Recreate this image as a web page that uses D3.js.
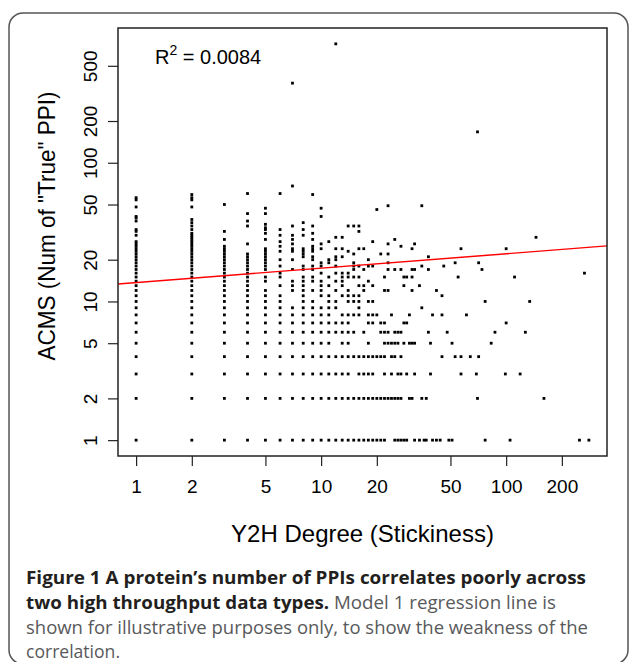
<!DOCTYPE html>
<html>
<head>
<meta charset="utf-8">
<script src="https://cdn.jsdelivr.net/npm/d3@7"></script>
<style>
  body { margin: 0; background: #fff; }
  svg { display: block; }
</style>
</head>
<body>
<div id="chart"></div>
<script>
// Y2H degree (x) -> the ACMS counts seen in that column
const columns = [
  [1, [1, 2, 3, 4, 5, 6, 7, 8, 9, 10, 11, 12, 13, 14, 15, 16, 17, 18, 19, 20, 21, 22, 23, 24, 25, 26, 27, 30, 32, 33, 38, 40, 41, 48, 54, 56]],
  [2, [1, 2, 3, 4, 5, 6, 7, 8, 9, 10, 11, 12, 13, 14, 15, 16, 17, 18, 19, 20, 21, 22, 23, 24, 25, 26, 27, 28, 29, 30, 31, 33, 35, 37, 39, 48, 54, 56, 59]],
  [3, [1, 2, 3, 4, 5, 6, 7, 8, 9, 10, 11, 12, 13, 14, 15, 16, 17, 18, 19, 20, 21, 22, 23, 24, 25, 28, 32, 50]],
  [4, [1, 2, 3, 4, 5, 6, 7, 8, 9, 10, 11, 12, 13, 14, 15, 16, 17, 18, 19, 20, 21, 22, 26, 35, 38, 43, 60]],
  [5, [1, 2, 3, 4, 5, 6, 7, 8, 9, 10, 11, 12, 14, 15, 17, 18, 19, 20, 21, 22, 23, 24, 28, 31, 33, 34, 36, 43, 47]],
  [6, [1, 2, 3, 4, 5, 6, 7, 8, 9, 10, 11, 13, 15, 16, 18, 20, 23, 25, 27, 30, 33, 60]],
  [7, [1, 2, 3, 4, 5, 6, 7, 8, 9, 12, 13, 14, 17, 20, 23, 24, 26, 28, 30, 35, 68, 375]],
  [8, [1, 2, 3, 4, 5, 6, 7, 8, 9, 10, 11, 12, 13, 14, 15, 17, 18, 21, 22, 23, 24, 30, 33, 37]],
  [9, [1, 2, 3, 4, 5, 6, 7, 8, 9, 10, 12, 14, 15, 17, 18, 20, 21, 23, 24, 25, 28, 31, 35, 59]],
  [10, [1, 2, 3, 4, 5, 6, 7, 8, 9, 11, 12, 13, 14, 16, 18, 19, 24, 26, 41, 47]],
  [11, [1, 2, 3, 4, 5, 6, 7, 8, 9, 10, 11, 13, 15, 19, 20, 27]],
  [12, [1, 2, 3, 4, 6, 7, 9, 10, 12, 14, 16, 18, 20, 21, 24, 29, 720]],
  [13, [1, 2, 3, 4, 5, 6, 7, 8, 11, 13, 14, 15, 16, 21, 24, 29]],
  [14, [1, 2, 3, 4, 5, 6, 7, 8, 10, 11, 12, 15, 16, 23, 35]],
  [15, [1, 2, 4, 6, 8, 10, 11, 15, 17, 18, 19, 22, 35]],
  [16, [1, 2, 3, 4, 8, 9, 10, 11, 13, 15, 18, 24, 32, 35]],
  [17, [1, 2, 3, 4, 6, 12, 13, 17, 24]],
  [18, [1, 2, 3, 4, 5, 7, 8, 10, 14, 18, 20]],
  [19, [1, 2, 3, 4, 7, 8, 10, 13, 18, 27]],
  [20, [1, 2, 4, 8, 46]],
  [21, [1, 2, 4, 6, 7, 22]],
  [22, [1, 2, 3, 4, 5, 6, 7, 12, 15]],
  [23, [2, 5, 6, 12, 17, 19, 22, 26, 49]],
  [24, [2, 3, 4, 5, 8]],
  [25, [1, 2, 4, 5, 6, 17, 28]],
  [26, [1, 2, 3, 5, 6]],
  [27, [1, 2, 3, 4, 6, 17, 25]],
  [28, [1, 5, 7, 13, 15]],
  [29, [1, 3, 7, 15]],
  [30, [2, 5, 8]],
  [31, [2, 5, 12, 15, 17, 24]],
  [32, [1, 3, 5, 17, 26]],
  [34, [1, 13]],
  [35, [2, 9, 18, 49]],
  [36, [1]],
  [37, [1, 2]],
  [38, [6, 17, 21]],
  [39, [3, 5]],
  [40, [1, 8]],
  [42, [1, 12]],
  [44, [1]],
  [45, [4, 8, 11]],
  [46, [18]],
  [48, [6]],
  [49, [1]],
  [51, [1, 5]],
  [53, [4, 19]],
  [55, [15]],
  [57, [3, 4, 24]],
  [61, [8]],
  [64, [4]],
  [69, [3]],
  [70, [2, 167]],
  [71, [4, 19]],
  [74, [17]],
  [77, [1, 10]],
  [83, [5]],
  [87, [6]],
  [99, [3]],
  [100, [7, 24]],
  [105, [1]],
  [111, [15]],
  [119, [3]],
  [127, [6]],
  [134, [10]],
  [145, [29]],
  [160, [2]],
  [249, [1]],
  [265, [16]],
  [280, [1]]
]

const xTicks = [1, 2, 5, 10, 20, 50, 100, 200]
const yTicks = [1, 2, 5, 10, 20, 50, 100, 200, 500]

// model 1 fit on log10 scale: log10(acms) = a + b * log10(degree)
const fitCoef = [1.136, 0.104]
const rSquared = '0.0084'

const xTitle = 'Y2H Degree (Stickiness)'
const yTitle = 'ACMS (Num of "True" PPI)'

const captionLines = [
  [['Figure 1 A protein\u2019s number of PPIs correlates poorly across', true]],
  [['two high throughput data types.', true], [' Model 1 regression line is', false]],
  [['shown for illustrative purposes only, to show the weakness of the', false]],
  [['correlation.', false]]
]

const W = 629
const H = 662
const margin = { top: 28, left: 118, right: 22, bottom: 206 }
const width = W - margin.left - margin.right
const height = H - margin.top - margin.bottom

const axisFont = '"Liberation Sans", Arial, Helvetica, sans-serif'
const captionFont = '"Open Sans", "Noto Sans", sans-serif'

const root = d3
  .select('#chart')
  .append('svg')
  .attr('width', W)
  .attr('height', H)

// rounded figure frame
root
  .append('rect')
  .attr('x', 9)
  .attr('y', 13)
  .attr('width', 619)
  .attr('height', 651)
  .attr('rx', 14)
  .attr('fill', 'none')
  .attr('stroke', '#555')
  .attr('stroke-width', 1.5)

const svg = root
  .append('g')
  .attr('transform', `translate(${margin.left},${margin.top})`)

const points = columns.flatMap(([x, ys]) => ys.map(y => ({ x, y })))

// R style axis range: 4% extra on each side (in log space)
function logPad(ext) {
  const lo = Math.log10(ext[0])
  const hi = Math.log10(ext[1])
  const d = (hi - lo) * 0.04
  return [Math.pow(10, lo - d), Math.pow(10, hi + d)]
}

const xScale = d3
  .scaleLog()
  .domain(logPad(d3.extent(points, d => d.x)))
  .range([0, width])
const yScale = d3
  .scaleLog()
  .domain(logPad(d3.extent(points, d => d.y)))
  .range([height, 0])

svg
  .append('clipPath')
  .attr('id', 'plot-clip')
  .append('rect')
  .attr('width', width)
  .attr('height', height)

// points
const sq = 2.8
svg
  .selectAll('.pt')
  .data(points)
  .enter()
  .append('rect')
  .attr('class', 'pt')
  .attr('x', d => xScale(d.x) - sq / 2)
  .attr('y', d => yScale(d.y) - sq / 2)
  .attr('width', sq)
  .attr('height', sq)
  .attr('fill', '#000')

// regression line
const fitLine = d3
  .line()
  .x(d => xScale(d))
  .y(d => yScale(Math.pow(10, fitCoef[0] + fitCoef[1] * Math.log10(d))))

svg
  .append('path')
  .datum(xScale.domain())
  .attr('d', fitLine)
  .attr('clip-path', 'url(#plot-clip)')
  .attr('fill', 'none')
  .attr('stroke', '#ff0000')
  .attr('stroke-width', 1.4)

// box
svg
  .append('rect')
  .attr('width', width)
  .attr('height', height)
  .attr('fill', 'none')
  .attr('stroke', '#222')
  .attr('stroke-width', 1.5)

// axes
const xAxis = d3
  .axisBottom(xScale)
  .tickValues(xTicks)
  .tickFormat(d3.format('d'))
  .tickSize(10)
  .tickSizeOuter(0)
  .tickPadding(13.5)

const yAxis = d3
  .axisLeft(yScale)
  .tickValues(yTicks)
  .tickFormat(d3.format('d'))
  .tickSize(10)
  .tickSizeOuter(0)

svg
  .append('g')
  .attr('transform', `translate(0,${height})`)
  .call(xAxis)
  .call(g => g.select('.domain').remove())
  .call(g => g.selectAll('line').attr('stroke', '#222').attr('stroke-width', 1.2))
  .call(g =>
    g
      .selectAll('text')
      .attr('fill', '#000')
      .style('font-family', axisFont)
      .style('font-size', '19px')
  )

svg
  .append('g')
  .call(yAxis)
  .call(g => g.select('.domain').remove())
  .call(g => g.selectAll('line').attr('stroke', '#222').attr('stroke-width', 1.2))
  .call(g =>
    g
      .selectAll('text')
      .attr('x', 0)
      .attr('y', -21)
      .attr('dy', null)
      .attr('transform', 'rotate(-90)')
      .attr('text-anchor', 'middle')
      .attr('fill', '#000')
      .style('font-family', axisFont)
      .style('font-size', '19px')
  )

// axis titles
root
  .append('text')
  .text(xTitle)
  .attr('x', margin.left + width / 2)
  .attr('y', 542)
  .attr('text-anchor', 'middle')
  .style('font-family', axisFont)
  .style('font-size', '24px')

root
  .append('text')
  .text(yTitle)
  .attr('transform', 'translate(55,226) scale(1.06,1) rotate(-90)')
  .attr('text-anchor', 'middle')
  .style('font-family', axisFont)
  .style('font-size', '22.5px')

// R squared note
const r2 = root
  .append('text')
  .attr('x', 155)
  .attr('y', 64)
  .style('font-family', axisFont)
  .style('font-size', '20px')
r2.append('tspan').text('R')
r2.append('tspan').text('2').attr('dy', -9).style('font-size', '14px')
r2.append('tspan').text(' = ' + rSquared).attr('dy', 9)

// caption
const captionX = 26
const captionY = [584, 609, 634, 658]
const captionW = [560, 530, 562, 94]

captionLines.forEach((parts, i) => {
  const t = root
    .append('text')
    .attr('x', captionX)
    .attr('y', captionY[i])
    .attr('textLength', captionW[i])
    .attr('lengthAdjust', 'spacingAndGlyphs')
    .style('font-family', captionFont)
    .style('font-size', '17.5px')
  parts.forEach(([str, bold]) => {
    t.append('tspan')
      .text(str)
      .style('font-weight', bold ? 700 : 400)
      .attr('fill', bold ? '#231f20' : '#58595b')
  })
})
</script>
</body>
</html>
